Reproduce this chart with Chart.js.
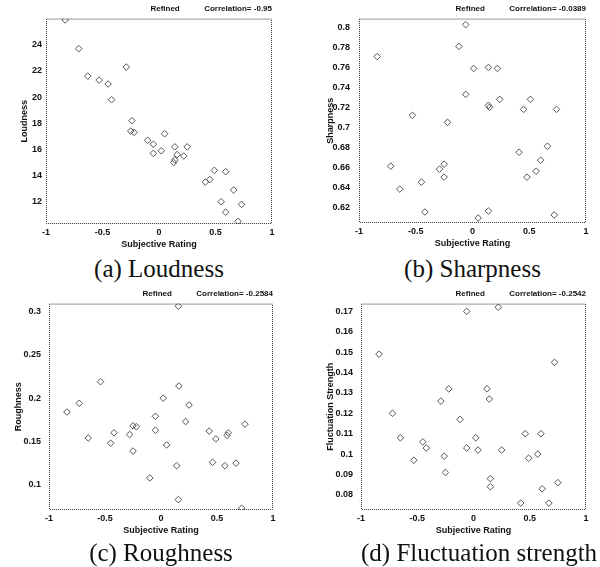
<!DOCTYPE html>
<html>
<head>
<meta charset="utf-8">
<script src="https://cdn.jsdelivr.net/npm/chart.js@4"></script>
<style>
  body { margin: 0; background: #fff; }
  .panel { position: absolute; width: 300px; height: 282px; }
  .panel canvas { position: absolute; left: 0; top: 0; }
  .cap { position: absolute; top: 256px; height: 26px; line-height: 26px; font-family: "Liberation Serif", serif; font-size: 25px; color: #111; white-space: nowrap; text-align: center; }
</style>
</head>
<body>
<div class="panel" style="left:0;top:0"><canvas id="chartA" width="300" height="254"></canvas><div class="cap" style="left:46px;width:226px">(a) Loudness</div></div>
<div class="panel" style="left:300px;top:0"><canvas id="chartB" width="300" height="253"></canvas><div class="cap" style="left:59px;width:227px">(b) Sharpness</div></div>
<div class="panel" style="left:0;top:285px"><canvas id="chartC" width="300" height="255"></canvas><div class="cap" style="left:49px;width:224px;top:255px">(c) Roughness</div></div>
<div class="panel" style="left:300px;top:285px"><canvas id="chartD" width="300" height="255"></canvas><div class="cap" style="left:61px;width:236px;top:255px;text-align:left">(d) Fluctuation strength</div></div>
<script>
// subjective rating (x) and metric (y)
const ratingA = [-0.83, -0.71, -0.63, -0.53, -0.45, -0.42, -0.29, -0.24, -0.25, -0.22, -0.10, -0.05, -0.05, 0.02, 0.05, 0.14, 0.16, 0.14, 0.13, 0.22, 0.25, 0.41, 0.45, 0.49, 0.59, 0.55, 0.59, 0.66, 0.73, 0.70];
const loudness = [25.9, 23.7, 21.6, 21.3, 21.0, 19.8, 22.3, 18.2, 17.4, 17.3, 16.7, 16.4, 15.7, 15.9, 17.2, 16.2, 15.6, 15.2, 15.0, 15.5, 16.2, 13.5, 13.7, 14.4, 14.3, 12.0, 11.2, 12.9, 11.8, 10.5];

const ratingB = [-0.84, -0.72, -0.64, -0.53, -0.45, -0.42, -0.29, -0.25, -0.25, -0.22, -0.12, -0.06, -0.06, 0.01, 0.05, 0.14, 0.14, 0.15, 0.14, 0.22, 0.24, 0.41, 0.45, 0.48, 0.56, 0.51, 0.60, 0.66, 0.74, 0.72];
const sharpness = [0.771, 0.661, 0.638, 0.712, 0.645, 0.615, 0.658, 0.663, 0.650, 0.705, 0.781, 0.803, 0.733, 0.759, 0.609, 0.760, 0.722, 0.720, 0.616, 0.759, 0.728, 0.675, 0.718, 0.650, 0.656, 0.728, 0.667, 0.681, 0.718, 0.612];

const ratingC = [-0.84, -0.73, -0.65, -0.54, -0.45, -0.42, -0.28, -0.25, -0.22, -0.25, -0.10, -0.05, -0.05, 0.02, 0.05, 0.14, 0.155, 0.155, 0.16, 0.22, 0.25, 0.43, 0.46, 0.49, 0.57, 0.60, 0.59, 0.67, 0.75, 0.72];
const roughness = [0.184, 0.194, 0.154, 0.219, 0.148, 0.160, 0.158, 0.168, 0.167, 0.139, 0.108, 0.179, 0.163, 0.200, 0.146, 0.122, 0.083, 0.306, 0.214, 0.173, 0.192, 0.162, 0.126, 0.153, 0.122, 0.160, 0.157, 0.125, 0.170, 0.073];

const ratingD = [-0.84, -0.72, -0.65, -0.53, -0.45, -0.42, -0.29, -0.22, -0.26, -0.25, -0.12, -0.06, -0.06, 0.02, 0.04, 0.12, 0.14, 0.15, 0.15, 0.22, 0.25, 0.42, 0.46, 0.49, 0.57, 0.60, 0.61, 0.67, 0.72, 0.75];
const fluctuation = [0.149, 0.120, 0.108, 0.097, 0.106, 0.103, 0.126, 0.132, 0.099, 0.091, 0.117, 0.170, 0.103, 0.108, 0.102, 0.132, 0.127, 0.088, 0.084, 0.172, 0.102, 0.076, 0.110, 0.098, 0.100, 0.110, 0.083, 0.076, 0.145, 0.086];

// tick labels
const ratingTicks = [-1, -0.5, 0, 0.5, 1];
const loudnessTicks = [12, 14, 16, 18, 20, 22, 24];
const sharpnessTicks = [0.62, 0.64, 0.66, 0.68, 0.7, 0.72, 0.74, 0.76, 0.78, 0.8];
const roughnessTicks = [0.1, 0.15, 0.2, 0.25, 0.3];
const fluctuationTicks = [0.08, 0.09, 0.1, 0.11, 0.12, 0.13, 0.14, 0.15, 0.16, 0.17];

const correlations = ["-0.95", "-0.0389", "-0.2584", "-0.2542"];

const sans = "'Liberation Sans', Arial, sans-serif";
const narrow = "'Liberation Sans Narrow', 'Liberation Sans', Arial, sans-serif";

// dotted frame round the plot area
const framePlugin = {
  id: "frame",
  afterDraw(chart) {
    const { ctx, chartArea: a } = chart;
    ctx.save();
    ctx.strokeStyle = "#333";
    ctx.lineWidth = 1;
    ctx.setLineDash([1, 1]);
    ctx.strokeRect(a.left + 0.5, a.top + 0.5, a.right - a.left - 1, a.bottom - a.top - 1);
    ctx.restore();
  }
};

function makeChart(id, xs, ys, opts) {
  const pts = xs.map((x, i) => ({ x, y: ys[i] }));
  new Chart(document.getElementById(id), {
    type: "scatter",
    data: {
      datasets: [{
        data: pts,
        pointStyle: "rectRot",
        pointRadius: 3.3,
        borderWidth: 1,
        borderColor: "#555",
        backgroundColor: "rgba(255,255,255,0)"
      }]
    },
    options: {
      responsive: false,
      animation: false,
      layout: { padding: { left: 0, right: opts.padRight, top: 0, bottom: 0 } },
      plugins: {
        legend: { display: false },
        tooltip: { enabled: false },
        title: {
          display: true,
          align: "end",
          text: "Refined           Correlation= " + opts.corr,
          color: "#111",
          font: { family: sans, size: 8, weight: "bold" },
          padding: { top: 4, bottom: 5 }
        }
      },
      scales: {
        x: {
          type: "linear",
          min: -1,
          max: 1,
          afterFit: s => { s.height = 30; },
          afterBuildTicks: s => { s.ticks = ratingTicks.map(v => ({ value: v })); },
          grid: { display: false, drawTicks: false },
          border: { display: false },
          ticks: {
            padding: 3,
            color: "#111",
            font: { family: sans, size: 9, weight: "bold" },
            callback: v => String(v),
            maxRotation: 0
          },
          title: {
            display: true,
            text: "Subjective Rating",
            color: "#111",
            font: { family: sans, size: 9, weight: "bold" },
            padding: { top: 0, bottom: 4 }
          }
        },
        y: {
          type: "linear",
          min: opts.yMin,
          max: opts.yMax,
          afterFit: s => { s.width = opts.yWidth; },
          afterBuildTicks: s => { s.ticks = opts.yTicks.map(v => ({ value: v })); },
          grid: { display: false, drawTicks: false },
          border: { display: false },
          ticks: {
            padding: opts.tickPad,
            color: "#111",
            font: { family: narrow, size: 9, weight: "bold" },
            callback: v => String(v),
            autoSkip: false
          },
          title: {
            display: true,
            text: opts.yTitle,
            color: "#111",
            font: { family: sans, size: 9, weight: "bold" },
            padding: { top: opts.titlePad, bottom: 0 }
          }
        }
      }
    },
    plugins: [framePlugin]
  });
}

makeChart("chartA", ratingA, loudness, { corr: correlations[0], yTitle: "Loudness", yMin: 10.3, yMax: 26, yTicks: loudnessTicks, yWidth: 46, padRight: 28, titlePad: 19, tickPad: 4 });
makeChart("chartB", ratingB, sharpness, { corr: correlations[1], yTitle: "Sharpness", yMin: 0.604, yMax: 0.809, yTicks: sharpnessTicks, yWidth: 59, padRight: 14, titlePad: 25, tickPad: 9 });
makeChart("chartC", ratingC, roughness, { corr: correlations[2], yTitle: "Roughness", yMin: 0.071, yMax: 0.309, yTicks: roughnessTicks, yWidth: 49, padRight: 27, titlePad: 13, tickPad: 8 });
makeChart("chartD", ratingD, fluctuation, { corr: correlations[3], yTitle: "Fluctuation Strength", yMin: 0.0726, yMax: 0.1738, yTicks: fluctuationTicks, yWidth: 61, padRight: 14, titlePad: 25, tickPad: 8 });
</script>
</body>
</html>
